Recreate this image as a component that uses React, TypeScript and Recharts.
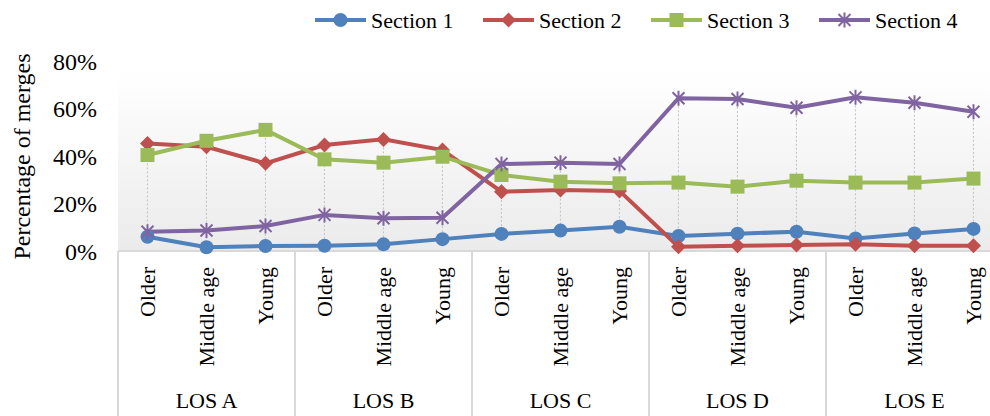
import React from 'react';
import { ComposedChart, Line, Bar, XAxis, YAxis, CartesianGrid, Legend } from 'recharts';

const groups = ['LOS A', 'LOS B', 'LOS C', 'LOS D', 'LOS E'];
const ages = ['Older', 'Middle age', 'Young'];
const yTicks = [0, 20, 40, 60, 80];

const section1 = [6.0, 1.6, 2.1, 2.2, 2.8, 5.0, 7.2, 8.6, 10.2, 6.3, 7.3, 8.1, 5.3, 7.4, 9.3];
const section2 = [45.3, 43.9, 36.9, 44.6, 47.0, 42.5, 25.0, 25.7, 25.3, 1.8, 2.2, 2.5, 2.8, 2.2, 2.2];
const section3 = [40.4, 46.4, 51.0, 38.6, 37.2, 39.7, 32.0, 29.2, 28.5, 28.8, 27.1, 29.6, 28.8, 28.8, 30.5];
const section4 = [8.1, 8.6, 10.5, 15.2, 13.8, 14.0, 36.6, 37.2, 36.6, 64.3, 64.0, 60.3, 64.7, 62.4, 58.6];

const data = section1.map((_, i) => {
  const vals = [section1[i], section2[i], section3[i], section4[i]];
  return {
    key: groups[Math.floor(i / 3)] + '|' + ages[i % 3],
    s1: section1[i],
    s2: section2[i],
    s3: section3[i],
    s4: section4[i],
    range: [Math.min(...vals), Math.max(...vals)],
  };
});

const FONT = 'Liberation Serif';
const CHART_W = 1010;
const CHART_H = 416;
const MARGIN = { top: 61, right: 7, bottom: 0, left: 0 };
const Y_W = 118;
const X_H = 165;
const BAND = (CHART_W - MARGIN.right - MARGIN.left - Y_W) / data.length;

const COLORS = { s1: '#4f81bd', s2: '#c0504d', s3: '#9bbb59', s4: '#8064a2' };

function Marker({ type, cx, cy, color }: any) {
  if (cx == null || cy == null) return null;
  if (type === 'circle') return <circle cx={cx} cy={cy} r={7} fill={color} />;
  if (type === 'diamond')
    return <path d={`M${cx},${cy - 7.5}L${cx + 7.5},${cy}L${cx},${cy + 7.5}L${cx - 7.5},${cy}Z`} fill={color} />;
  if (type === 'square') return <rect x={cx - 7} y={cy - 7} width={14} height={14} fill={color} />;
  return (
    <path
      d={`M${cx - 6},${cy - 6}L${cx + 6},${cy + 6}M${cx - 6},${cy + 6}L${cx + 6},${cy - 6}M${cx},${cy - 7.5}L${cx},${cy + 7.5}`}
      stroke={color}
      strokeWidth={2}
      fill="none"
    />
  );
}

const series = [
  { key: 's1', name: 'Section 1', marker: 'circle' },
  { key: 's2', name: 'Section 2', marker: 'diamond' },
  { key: 's3', name: 'Section 3', marker: 'square' },
  { key: 's4', name: 'Section 4', marker: 'star' },
];

function DropLine(props: any) {
  const { x, y, width, height } = props;
  if (x == null) return null;
  const cx = x + width / 2;
  return <line x1={cx} x2={cx} y1={y} y2={y + height} stroke="#c0c0c0" strokeWidth={1} strokeDasharray="2 2" />;
}

function CatTick(props: any) {
  const { x, y, payload } = props;
  const i = payload.index;
  const ty = y + 16;
  return (
    <g>
      <text
        x={x}
        y={ty}
        dy="0.35em"
        transform={`rotate(-90, ${x}, ${ty})`}
        textAnchor="end"
        fontFamily={FONT}
        fontSize={22}
        fill="#000"
      >
        {ages[i % 3]}
      </text>
      {i % 3 === 1 && (
        <text x={x} y={y + 157} textAnchor="middle" fontFamily={FONT} fontSize={22} fill="#000">
          {groups[Math.floor(i / 3)]}
        </text>
      )}
      {i % 3 === 0 && (
        <line x1={x - BAND / 2} x2={x - BAND / 2} y1={y} y2={y + X_H} stroke="#d9d9d9" strokeWidth={2} />
      )}
      {i === data.length - 1 && (
        <line x1={x + BAND / 2} x2={x + BAND / 2} y1={y} y2={y + X_H} stroke="#d9d9d9" strokeWidth={2} />
      )}
    </g>
  );
}

function LegendContent() {
  return (
    <svg width={990} height={40}>
      {series.map((s, i) => {
        const x0 = 315 + i * 168;
        const c = (COLORS as any)[s.key];
        return (
          <g key={s.key}>
            <line x1={x0} x2={x0 + 51} y1={20} y2={20} stroke={c} strokeWidth={4} />
            <Marker type={s.marker} cx={x0 + 25.5} cy={20} color={c} />
            <text x={x0 + 56} y={27.5} fontFamily={FONT} fontSize={22} fill="#000">
              {s.name}
            </text>
          </g>
        );
      })}
    </svg>
  );
}

function YLabel() {
  return (
    <text
      x={30}
      y={156.5}
      transform="rotate(-90, 30, 156.5)"
      textAnchor="middle"
      fontFamily={FONT}
      fontSize={24}
      fill="#000"
    >
      Percentage of merges
    </text>
  );
}

export default function App() {
  return (
    <div style={{ position: 'fixed', left: 0, top: 0, width: 990, height: 416, overflow: 'hidden', background: '#fff' }}>
      <ComposedChart width={CHART_W} height={CHART_H} data={data} margin={MARGIN}>
        <defs>
          <linearGradient id="plotBg" x1="0" y1="0" x2="0" y2="1">
            <stop offset="0" stopColor="#ffffff" />
            <stop offset="0.1" stopColor="#fefefe" />
            <stop offset="1" stopColor="#ebebeb" />
          </linearGradient>
        </defs>
        <CartesianGrid horizontal={false} vertical={false} fill="url(#plotBg)" stroke="none" />
        <XAxis
          dataKey="key"
          interval={0}
          height={X_H}
          tickLine={false}
          tickSize={0}
          tickMargin={0}
          axisLine={{ stroke: '#d9d9d9', strokeWidth: 2 }}
          tick={<CatTick />}
        />
        <YAxis
          width={Y_W}
          domain={[0, 80]}
          ticks={yTicks}
          axisLine={false}
          tickLine={false}
          tickSize={0}
          tickMargin={21}
          tickFormatter={(v: number) => `${v}%`}
          tick={{ fontFamily: FONT, fontSize: 24, fill: '#000' }}
          label={<YLabel />}
        />
        <Legend
          layout="horizontal"
          align="center"
          verticalAlign="middle"
          wrapperStyle={{ top: 0, left: 0, width: 990, height: 40 }}
          content={<LegendContent />}
        />
        <Bar dataKey="range" isAnimationActive={false} shape={<DropLine />} legendType="none" />
        {series.map((s) => (
          <Line
            key={s.key}
            type="linear"
            dataKey={s.key}
            name={s.name}
            stroke={(COLORS as any)[s.key]}
            strokeWidth={4}
            isAnimationActive={false}
            dot={(p: any) => <Marker key={`${s.key}-${p.index}`} type={s.marker} cx={p.cx} cy={p.cy} color={(COLORS as any)[s.key]} />}
            activeDot={false}
          />
        ))}
      </ComposedChart>
    </div>
  );
}
